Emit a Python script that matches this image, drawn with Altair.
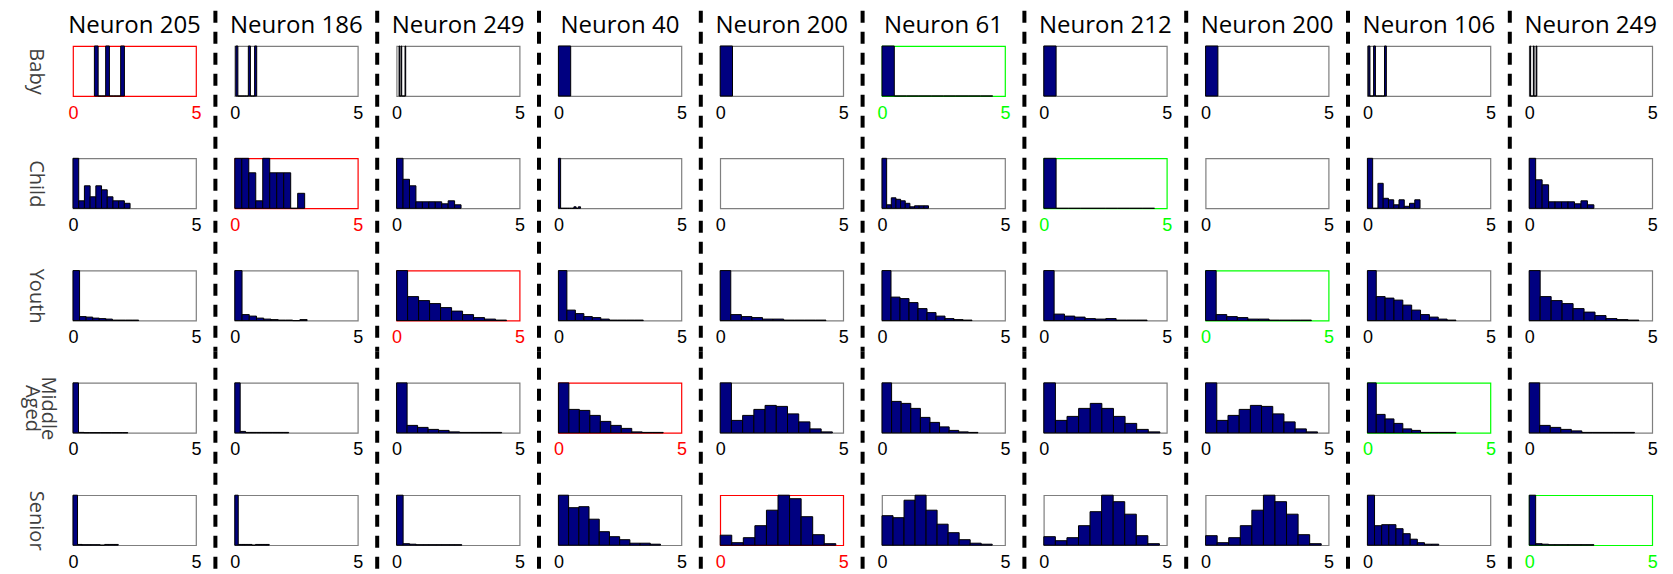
import altair as alt
import pandas as pd

NEURONS = ["Neuron 205", "Neuron 186", "Neuron 249", "Neuron 40", "Neuron 200",
           "Neuron 61", "Neuron 212", "Neuron 200", "Neuron 106", "Neuron 249"]
AGE_GROUPS = ["Baby", "Child", "Youth", ["Middle", "Aged"], "Senior"]

# highlighted panel (column index) in each age group
RED_PANEL = [0, 1, 2, 3, 4]
GREEN_PANEL = [5, 6, 7, 8, 9]

# each panel: left edge of the first bin, bin width, relative bar heights
baby_start = [0.87, 0.04, 0.10, 0.0, 0.0, 0.0, 0.0, 0.0, 0.03, 0.03]
baby_width = [0.1525, 0.085, 0.027, 0.5, 0.5, 0.5, 0.5, 0.5, 0.074, 0.028]
baby_counts = [
    [1, 0, 0, 1, 0, 0, 0, 1],
    [1, 0, 0, 0, 0, 0, 1, 0, 0, 1],
    [1, 0, 0, 1, 0, 0, 0, 0, 0, 1],
    [1],
    [1],
    [1, 0, 0, 0, 0, 0, 0, 0, 0],
    [1],
    [1],
    [1, 0, 0, 1, 0, 0, 0, 0, 0, 1],
    [1, 0, 0, 0, 0, 1, 0, 0, 0, 1],
]

child_start = [0, 0, 0, 0, 0, 0, 0, 0, 0, 0]
child_width = [0.232, 0.284, 0.262, 0.09, 0.5, 0.189, 0.5, 0.5, 0.214, 0.263]
child_counts = [
    [1, 0.15, 0.45, 0.23, 0.45, 0.37, 0.23, 0.15, 0.15, 0.1],
    [1, 1, 0.71, 0.15, 1, 0.71, 0.71, 0.71, 0, 0.3],
    [1, 0.58, 0.45, 0.13, 0.13, 0.13, 0.13, 0.09, 0.15, 0.07],
    [1, 0, 0, 0, 0, 0, 0, 0.03, 0, 0.03],
    [],
    [1, 0.07, 0.21, 0.18, 0.15, 0.1, 0.03, 0.05, 0.05, 0.05],
    [1, 0, 0, 0, 0, 0, 0, 0, 0],
    [],
    [1, 0, 0.5, 0.2, 0.17, 0.07, 0.17, 0.04, 0.1, 0.17],
    [1, 0.57, 0.47, 0.13, 0.13, 0.13, 0.13, 0.09, 0.15, 0.07],
]

youth_start = [0, 0, 0, 0, 0, 0, 0, 0, 0, 0]
youth_width = [0.267, 0.294, 0.447, 0.345, 0.43, 0.366, 0.42, 0.43, 0.36, 0.446]
youth_counts = [
    [1, 0.08, 0.07, 0.05, 0.04, 0.03, 0.01, 0.01, 0.01, 0.01],
    [1, 0.12, 0.09, 0.05, 0.03, 0.02, 0.01, 0.01, 0, 0.02],
    [1, 0.48, 0.4, 0.34, 0.26, 0.19, 0.12, 0.06, 0.03, 0.01],
    [1, 0.21, 0.14, 0.08, 0.06, 0.03, 0.01, 0.01, 0.01, 0.01],
    [1, 0.12, 0.08, 0.06, 0.03, 0.03, 0.01, 0.01, 0.01, 0.01],
    [1, 0.47, 0.44, 0.36, 0.24, 0.16, 0.09, 0.04, 0.02, 0.01],
    [1, 0.13, 0.09, 0.07, 0.04, 0.03, 0.04, 0.01, 0.01, 0.01],
    [1, 0.12, 0.08, 0.06, 0.03, 0.03, 0.01, 0.01, 0.01, 0.01],
    [1, 0.48, 0.45, 0.41, 0.31, 0.21, 0.12, 0.07, 0.03, 0.01],
    [1, 0.48, 0.4, 0.34, 0.24, 0.17, 0.1, 0.04, 0.02, 0.01],
]

middle_start = [0, 0, 0, 0, 0, 0, 0, 0, 0, 0]
middle_width = [0.223, 0.219, 0.427, 0.426, 0.456, 0.39, 0.472, 0.455, 0.36, 0.428]
middle_counts = [
    [1, 0.01, 0.005, 0.005, 0.005, 0.005, 0.005, 0.005, 0.005, 0.005],
    [1, 0.03, 0.01, 0.01, 0.01, 0.01, 0.01, 0.01, 0.01, 0.01],
    [1, 0.15, 0.11, 0.07, 0.05, 0.02, 0.01, 0.01, 0.01, 0.01],
    [1, 0.47, 0.45, 0.35, 0.23, 0.15, 0.09, 0.02, 0.01, 0.01],
    [1, 0.25, 0.35, 0.47, 0.55, 0.53, 0.38, 0.22, 0.08, 0.02],
    [1, 0.63, 0.59, 0.49, 0.31, 0.21, 0.12, 0.05, 0.02, 0.01],
    [1, 0.25, 0.33, 0.49, 0.59, 0.49, 0.33, 0.19, 0.07, 0.02],
    [1, 0.25, 0.35, 0.47, 0.55, 0.53, 0.38, 0.22, 0.08, 0.02],
    [1, 0.37, 0.28, 0.19, 0.08, 0.05, 0.01, 0.01, 0.01, 0.01],
    [1, 0.15, 0.11, 0.07, 0.04, 0.01, 0.01, 0.01, 0.01, 0.01],
]

senior_start = [0, 0, 0, 0, 0, 0, 0, 0, 0, 0]
senior_width = [0.184, 0.14, 0.265, 0.415, 0.47, 0.448, 0.47, 0.47, 0.29, 0.263]
senior_counts = [
    [1, 0.015, 0.01, 0.01, 0.01, 0.01, 0, 0.015, 0.015, 0.015],
    [1, 0.015, 0.015, 0.015, 0.015, 0, 0.015, 0.015, 0.015, 0.015],
    [1, 0.03, 0.02, 0.01, 0.01, 0.01, 0.01, 0.01, 0.01, 0.01],
    [1, 0.75, 0.77, 0.52, 0.27, 0.17, 0.11, 0.04, 0.04, 0.02],
    [0.2, 0.05, 0.15, 0.39, 0.7, 1, 0.93, 0.57, 0.21, 0.03],
    [0.59, 0.55, 0.9, 1, 0.7, 0.42, 0.25, 0.11, 0.04, 0.02],
    [0.17, 0.09, 0.15, 0.39, 0.67, 1, 0.87, 0.62, 0.19, 0.03],
    [0.19, 0.05, 0.15, 0.39, 0.7, 1, 0.87, 0.62, 0.21, 0.03],
    [1, 0.39, 0.41, 0.41, 0.33, 0.23, 0.12, 0.05, 0.02, 0.02],
    [1, 0.03, 0.02, 0.01, 0.01, 0.01, 0.01, 0.01, 0.01, 0.01],
]

ROWS = [
    (baby_start, baby_width, baby_counts),
    (child_start, child_width, child_counts),
    (youth_start, youth_width, youth_counts),
    (middle_start, middle_width, middle_counts),
    (senior_start, senior_width, senior_counts),
]

# layout / style
W, H = 123, 50
GAP_X, GAP_Y = 38.8, 62.3
DASH = [12, 9]
PERIOD = sum(DASH)
FIRST_TOP = 35.3
LAST_BOTTOM = 24
TITLE_OFFSET = -29.5


def highlight(r, c):
    if c == RED_PANEL[r]:
        return "#ff0000"
    if c == GREEN_PANEL[r]:
        return "#00ff00"
    return None


panels = []
for r in range(5):
    starts, widths, counts = ROWS[r]
    for c in range(10):
        hl = highlight(r, c)
        border = hl or "#7f7f7f"
        label_colour = hl or "#000000"
        n = len(counts[c])
        df = pd.DataFrame({
            "bin_start": [starts[c] + i * widths[c] for i in range(n)],
            "bin_end": [starts[c] + (i + 1) * widths[c] for i in range(n)],
            "count": [float(v) for v in counts[c]],
            "base": [0.0] * n,
        })
        x_axis = alt.Axis(values=[0, 5], title=None, grid=False, ticks=False, tickSize=0,
                          domain=False, labelFlush=False, labelAngle=0,
                          labelFont="Liberation Sans", labelFontSize=18,
                          labelColor=label_colour, labelPadding=8)
        if c == 0:
            lab = AGE_GROUPS[r]
            y_axis = alt.Axis(title=lab, labels=False, ticks=False, domain=False, grid=False,
                              titleAngle=90, titleAlign="center", titleBaseline="middle",
                              titleX=-25.7 if isinstance(lab, list) else -37.7, titleY=H / 2,
                              titleFont="Open Sans", titleFontSize=20, titleFontWeight="normal",
                              titleColor="#404040", titleLineHeight=16)
        else:
            y_axis = None
        bars = alt.Chart(df).mark_rect(fill="#000080", stroke="#000000", strokeWidth=1).encode(
            x=alt.X("bin_start:Q", scale=alt.Scale(domain=[0, 5], nice=False, zero=False), axis=x_axis),
            x2=alt.X2("bin_end"),
            y=alt.Y("count:Q", scale=alt.Scale(domain=[0, 1], nice=False), axis=y_axis),
            y2=alt.Y2("base"),
        )
        layers = [bars]
        if c < 9 or r == 0:
            top = -FIRST_TOP if r == 0 else -GAP_Y / 2
            bottom = H + (GAP_Y / 2 if r < 4 else LAST_BOTTOM)
            abs_top = r * (H + GAP_Y) + top + FIRST_TOP
            sep = alt.Chart(pd.DataFrame({"sep": [c]})).mark_rule(
                color="#000000", strokeWidth=4, strokeDash=DASH,
                strokeDashOffset=abs_top % PERIOD,
                opacity=1 if c < 9 else 0.001,
            ).encode(
                x=alt.value(W + GAP_X / 2 if c < 9 else W / 2),
                y=alt.value(top),
                y2=alt.value(bottom),
            )
            layers.append(sep)
        panel = alt.layer(*layers).properties(
            width=W, height=H,
            view=alt.ViewBackground(stroke=border, strokeWidth=1.2),
        )
        if r == 0:
            panel = panel.properties(title=alt.TitleParams(
                NEURONS[c], font="Open Sans", fontSize=24, fontWeight="normal",
                color="#000000", anchor="middle", offset=TITLE_OFFSET))
        panels.append(panel)

chart = alt.concat(
    *panels, columns=10, spacing={"row": GAP_Y, "column": GAP_X}, bounds="flush"
).properties(padding={"left": 12, "top": 0, "right": 0, "bottom": 0})

chart.save("out.html", embed_options={"renderer": "svg", "actions": False})
